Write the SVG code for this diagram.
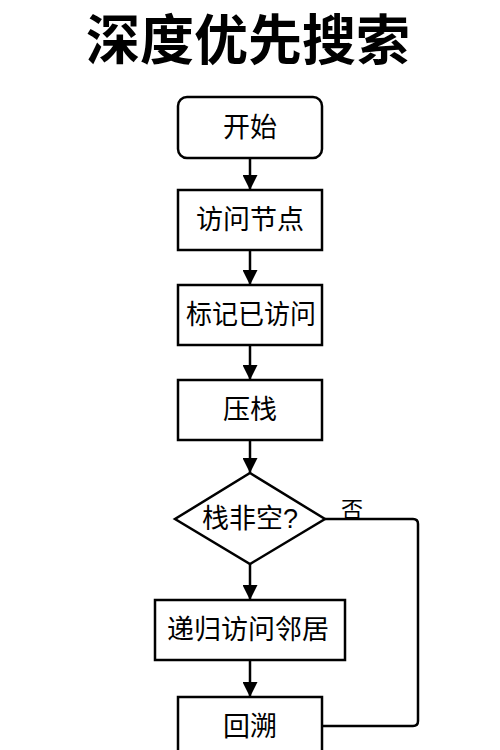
<svg xmlns="http://www.w3.org/2000/svg" width="500" height="750" viewBox="0 0 500 750">
<style>
.box{fill:#fff;stroke:#000;stroke-width:2.5}
.lbl{font-family:"Liberation Sans","Noto Sans CJK SC",sans-serif;font-size:27px;fill:#000;text-anchor:middle;dominant-baseline:central}
.edge{fill:none;stroke:#000;stroke-width:2.5;stroke-linejoin:round}
.title{font-family:"Liberation Sans","Noto Sans CJK SC",sans-serif;font-size:54px;font-weight:bold;fill:#000;text-anchor:middle}
</style>
<defs>
<marker id="arr" viewBox="0 0 10 10" refX="10" refY="5" markerWidth="6" markerHeight="6" markerUnits="strokeWidth" orient="auto">
<path d="M0,0 L10,5 L0,10 Z" fill="#000"/>
</marker>
</defs>
<rect width="500" height="750" fill="#fff"/>
<text class="title" x="248" y="60">深度优先搜索</text>
<g id="connectors">
<path class="edge" d="M250,158 V190" marker-end="url(#arr)"/>
<path class="edge" d="M250,250 V285" marker-end="url(#arr)"/>
<path class="edge" d="M250,345 V380" marker-end="url(#arr)"/>
<path class="edge" d="M250,440 V473" marker-end="url(#arr)"/>
<path class="edge" d="M250,564 V600" marker-end="url(#arr)"/>
<path class="edge" d="M250,660 V697" marker-end="url(#arr)"/>
<path class="edge" d="M325,519 H413 Q418,519 418,524 V721 Q418,726 413,726 H322"/>
<text class="lbl" x="352" y="509" style="font-size:22px">否</text>
</g>
<g id="start"><rect class="box" x="178" y="97" width="144" height="61" rx="9"/><text class="lbl" x="250" y="128">开始</text></g>
<g id="visit"><rect class="box" x="178" y="190" width="144" height="60"/><text class="lbl" x="250" y="220">访问节点</text></g>
<g id="mark"><rect class="box" x="178" y="285" width="144" height="60"/><text class="lbl" x="251" y="315" textLength="130" lengthAdjust="spacingAndGlyphs">标记已访问</text></g>
<g id="push"><rect class="box" x="178" y="380" width="144" height="60"/><text class="lbl" x="250" y="410">压栈</text></g>
<g id="check"><path class="box" d="M250,473 L325,519 L250,564 L175,519 Z"/><text class="lbl" x="250" y="519">栈非空?</text></g>
<g id="recurse"><rect class="box" x="155" y="600" width="190" height="60"/><text class="lbl" x="248" y="630">递归访问邻居</text></g>
<g id="backtrack"><rect class="box" x="178" y="697" width="144" height="70"/><text class="lbl" x="250" y="727">回溯</text></g>
</svg>
